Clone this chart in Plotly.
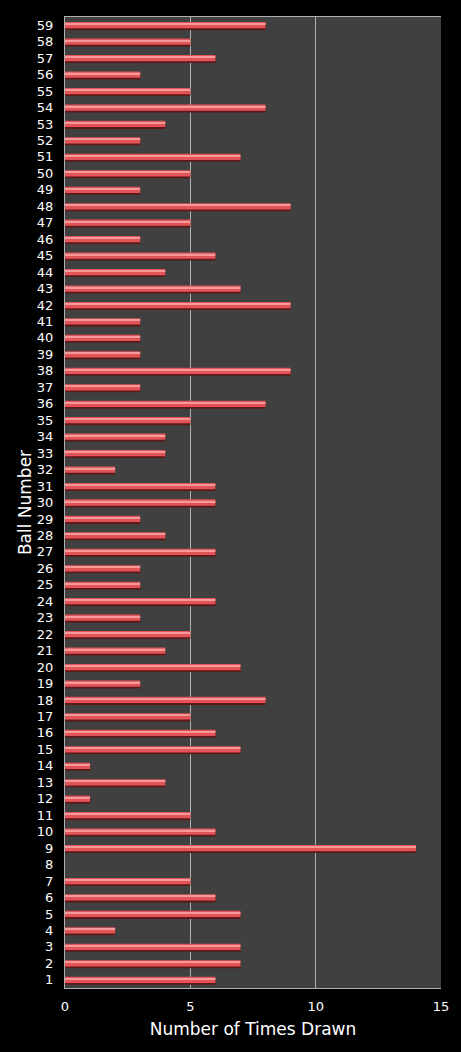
import plotly.graph_objects as go

BAR_COLOR = "#e25457"
BAR_LIGHT = "#f49a9a"
BAR_EDGE = "#5e1818"
PLOT_BG = "#404040"

balls = list(range(1, 60))
times_drawn = [
    6, 7, 7, 2, 7, 6, 5, 0, 14, 6,
    5, 1, 4, 1, 7, 6, 5, 8, 3, 7,
    4, 5, 3, 6, 3, 3, 6, 4, 3, 6,
    6, 2, 4, 4, 5, 8, 3, 9, 3, 3,
    3, 9, 7, 4, 6, 3, 5, 9, 3, 5,
    7, 3, 4, 8, 5, 3, 6, 5, 8,
]

fig = go.Figure()

# three bars laid over each other fake the bevelled look: shadow, body, highlight
fig.add_trace(
    go.Bar(
        x=times_drawn,
        y=balls,
        orientation="h",
        width=0.46,
        offset=-0.3,
        marker=dict(color=BAR_EDGE, line=dict(width=0)),
        hoverinfo="skip",
        showlegend=False,
    )
)
fig.add_trace(
    go.Bar(
        x=times_drawn,
        y=balls,
        orientation="h",
        width=0.38,
        offset=-0.19,
        marker=dict(color=BAR_COLOR, line=dict(width=0)),
        name="Times drawn",
        showlegend=False,
    )
)
fig.add_trace(
    go.Bar(
        x=times_drawn,
        y=balls,
        orientation="h",
        width=0.08,
        offset=0.03,
        marker=dict(color=BAR_LIGHT, line=dict(width=0)),
        hoverinfo="skip",
        showlegend=False,
    )
)

fig.update_layout(
    width=461,
    height=1052,
    paper_bgcolor="black",
    plot_bgcolor=PLOT_BG,
    barmode="overlay",
    margin=dict(l=65, r=20, t=17, b=64),
    font=dict(family="DejaVu Sans", color="white", size=13),
    xaxis=dict(
        title=dict(text="Number of Times Drawn", font=dict(size=17), standoff=10),
        range=[0, 15],
        tickvals=[0, 5, 10, 15],
        showgrid=True,
        gridcolor="#b0b0b0",
        gridwidth=1,
        zeroline=False,
        showline=True,
        linecolor="#b0b0b0",
        mirror=True,
        ticks="",
        ticklabelstandoff=6,
    ),
    yaxis=dict(
        title=dict(text="Ball Number", font=dict(size=17), standoff=0),
        range=[0.5, 59.5],
        tickmode="array",
        tickvals=balls,
        ticktext=[str(b) for b in balls],
        showgrid=False,
        zeroline=False,
        showline=True,
        linecolor="#b0b0b0",
        ticks="",
        ticklabelstandoff=8,
    ),
)

# page margin would otherwise push the chart off by 8px
fig.write_html(
    "out.html",
    config={"displayModeBar": False},
    post_script="document.body.style.margin='0';document.body.style.background='black';",
)
